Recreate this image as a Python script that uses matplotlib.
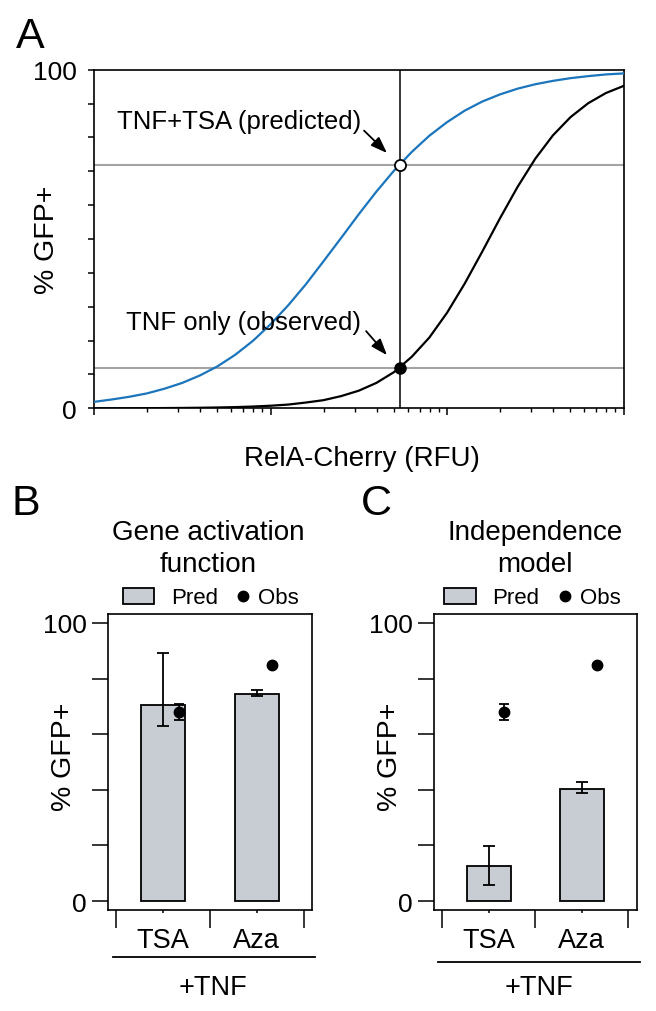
import numpy as np
import matplotlib
matplotlib.use('Agg')
import matplotlib.pyplot as plt
from matplotlib.patches import Patch
from matplotlib.lines import Line2D
from matplotlib.ticker import NullFormatter, FixedLocator

# --- panel A: dose-response curves (x given as log10 RFU) ---
rela_log10 = [1.0, 1.1, 1.2, 1.3, 1.4, 1.5, 1.6, 1.7, 1.8, 1.9, 2.0,
              2.1, 2.2, 2.3, 2.4, 2.5, 2.6, 2.7, 2.8, 2.9, 3.0,
              3.1, 3.2, 3.3, 3.4, 3.5, 3.6, 3.7, 3.8, 3.9, 4.0]
tnf_tsa_pred = [1.9, 2.6, 3.4, 4.4, 5.8, 7.5, 9.7, 12.4, 15.8, 19.9, 24.8,
                30.4, 36.6, 43.4, 50.3, 57.3, 64.0, 70.2, 75.7, 80.5, 84.5,
                87.9, 90.6, 92.7, 94.4, 95.7, 96.7, 97.5, 98.1, 98.6, 98.9]
tnf_only_obs = [0.0, 0.0, 0.0, 0.05, 0.07, 0.11, 0.16, 0.24, 0.35, 0.52, 0.76,
                1.1, 1.7, 2.4, 3.6, 5.2, 7.5, 10.7, 15.2, 20.9, 28.2,
                36.8, 46.3, 56.1, 65.4, 73.7, 80.6, 86.0, 90.1, 93.1, 95.2]
rela_level = 542      # RFU where the two readouts are compared
pred_level = 72
obs_level = 12

# --- panels B and C ---
drugs = ['TSA', 'Aza']
gaf_pred = [70.5, 74.6]
gaf_pred_err = [[7.6, 0.7], [18.6, 1.4]]
ind_pred = [12.5, 40.4]
ind_pred_err = [[6.6, 1.6], [7.3, 2.4]]
obs = [68.0, 84.9]
obs_err = [3.0, 0.5]

blue = '#1b75bc'
bar_gray = '#c8ccd3'
line_gray = '#a3a3a3'

plt.rcParams['font.family'] = ['Liberation Sans', 'DejaVu Sans']
plt.rcParams['axes.linewidth'] = 1.2

fig = plt.figure(figsize=(6.56, 10.12), dpi=100)
W, H = 656, 1012

# ---------------- A ----------------
axA = fig.add_axes([94 / W, 1 - 409.3 / H, 529.5 / W, 338.6 / H])
x = 10 ** np.array(rela_log10)
axA.axhline(pred_level, color=line_gray, lw=1.5, zorder=1)
axA.axhline(obs_level, color=line_gray, lw=1.5, zorder=1)
axA.axvline(rela_level, color='black', lw=1.1, zorder=2)
axA.plot(x, tnf_tsa_pred, color=blue, lw=1.6, zorder=3)
axA.plot(x, tnf_only_obs, color='black', lw=1.6, zorder=3)
axA.plot([rela_level], [pred_level], 'o', mfc='white', mec='black', mew=1.3, ms=8, zorder=5)
axA.plot([rela_level], [obs_level], 'o', color='black', ms=8, zorder=5)

axA.set_xscale('log')
axA.set_xlim(10, 1e4)
axA.set_ylim(0, 100)
axA.xaxis.set_major_formatter(NullFormatter())
axA.xaxis.set_minor_formatter(NullFormatter())
axA.tick_params(axis='x', which='major', length=5, width=1.1)
axA.tick_params(axis='x', which='minor', length=3, width=1.0)
axA.set_yticks([0, 100])
axA.yaxis.set_minor_locator(FixedLocator(range(10, 100, 10)))
axA.tick_params(axis='y', which='both', length=4.5, width=1.1, pad=8, labelsize=19)

axA.set_ylabel('% GFP+', fontsize=20.5, va='center')
axA.yaxis.set_label_coords(-0.089, 0.5)
axA.set_xlabel('RelA-Cherry (RFU)', fontsize=20, va='center')
axA.xaxis.set_label_coords(0.506, -0.146)

axA.text(327, 84.9, 'TNF+TSA (predicted)', fontsize=18.5, ha='right', va='center')
axA.text(327, 25.6, 'TNF only (observed)', fontsize=18.5, ha='right', va='center')
arrow = dict(arrowstyle='-|>,head_length=0.55,head_width=0.2', color='black', lw=1.3,
             mutation_scale=18, shrinkA=0, shrinkB=0)
axA.annotate('', xy=(457, 75.4), xytext=(339, 82.0), arrowprops=arrow)
axA.annotate('', xy=(457, 15.7), xytext=(348, 22.8), arrowprops=arrow)


# ---------------- B and C ----------------
def bar_panel(rect, pred, pred_err, title, title_x, leg_x, line_y, line_x, tnf_x):
    ax = fig.add_axes(rect)
    pos = np.arange(1, len(drugs) + 1)
    ax.bar(pos, pred, width=0.47, color=bar_gray, edgecolor='black', lw=1.3, zorder=2)
    ax.errorbar(pos, pred, yerr=pred_err, fmt='none', ecolor='black', elinewidth=1.3,
                capsize=4, capthick=1.3, zorder=3)
    ax.errorbar(pos + 0.165, obs, yerr=obs_err, fmt='o', color='black', ms=7.5,
                elinewidth=1.3, capsize=3.6, capthick=1.3, zorder=4)
    ax.set_xlim(0.41, 2.59)
    ax.set_ylim(-3.2, 103.2)
    ax.set_yticks([0, 100])
    ax.yaxis.set_minor_locator(FixedLocator([20, 40, 60, 80]))
    ax.tick_params(axis='y', which='both', length=11.3, width=1.1, pad=4, labelsize=19)
    ax.set_xticks([0.5, 1.5, 2.5])
    ax.set_xticklabels([])
    ax.xaxis.set_minor_locator(FixedLocator(pos))
    ax.tick_params(axis='x', which='major', length=13, width=1.1)
    ax.tick_params(axis='x', which='minor', length=2, width=1.1)
    for p, name in zip(pos, drugs):
        ax.text(p, -0.101, name, fontsize=19.5, ha='center', va='center',
                transform=ax.get_xaxis_transform())
    ax.plot(line_x, [line_y, line_y], color='black', lw=1.3, clip_on=False,
            transform=ax.transAxes)
    ax.text(tnf_x, -0.26, '+TNF', fontsize=19.5, ha='center', va='center',
            transform=ax.transAxes)
    ax.set_ylabel('% GFP+', fontsize=20.5, va='center')
    ax.yaxis.set_label_coords(-0.215, 0.52)
    fig.text(title_x / W, 1 - 549 / H, title, fontsize=20, ha='center', va='center',
             linespacing=1.35)
    leg1 = ax.legend(handles=[Patch(facecolor=bar_gray, edgecolor='black', lw=1.3)],
                     labels=['Pred'], loc='center', frameon=False, fontsize=16,
                     handlelength=1.4, handleheight=0.75, handletextpad=0.75,
                     bbox_to_anchor=(leg_x[0] / W, 1 - 599 / H), bbox_transform=fig.transFigure)
    ax.add_artist(leg1)
    ax.legend(handles=[Line2D([], [], ls='none', marker='o', color='black', ms=7.5)],
              labels=['Obs'], loc='center', frameon=False, fontsize=16,
              handlelength=0.55, handletextpad=0.4,
              bbox_to_anchor=(leg_x[1] / W, 1 - 599 / H), bbox_transform=fig.transFigure)
    return ax


bar_panel([108 / W, 1 - 911 / H, 204 / W, 296 / H], gaf_pred, gaf_pred_err,
          'Gene activation\nfunction', 208, (170.5, 268), -0.16, [0.0245, 1.015], 0.515)
bar_panel([434 / W, 1 - 911 / H, 202.7 / W, 296 / H], ind_pred, ind_pred_err,
          'Independence\nmodel', 535, (491.8, 589.5), -0.177, [0.02, 1.018], 0.518)

fig.text(30 / W, 1 - 37 / H, 'A', fontsize=31, ha='center', va='center')
fig.text(26 / W, 1 - 504 / H, 'B', fontsize=31, ha='center', va='center')
fig.text(376 / W, 1 - 504 / H, 'C', fontsize=31, ha='center', va='center')

fig.savefig('out.png', dpi=100)
